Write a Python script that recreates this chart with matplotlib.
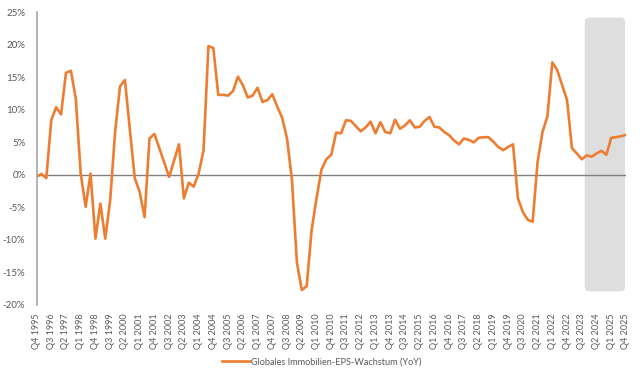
import numpy as np
import matplotlib
matplotlib.use("Agg")
import matplotlib.pyplot as plt
from matplotlib.patches import FancyBboxPatch

plt.rcParams['font.family'] = ['Lato', 'DejaVu Sans']

# Quarterly YoY EPS growth (%), Q4 1995 .. Q4 2025
eps_growth = [
    -0.3, 0.15, -0.5, 8.4, 10.4, 9.3, 15.7, 16.0, 11.7, 0.2,
    -4.9, 0.2, -9.8, -4.4, -9.8, -3.9, 6.6, 13.6, 14.6, 7.0,
    -0.5, -2.6, -6.5, 5.6, 6.3, 4.1, 1.9, -0.3, 2.2, 4.7,
    -3.6, -1.2, -1.8, 0.2, 3.8, 19.8, 19.5, 12.3, 12.3, 12.2,
    12.9, 15.1, 13.8, 11.9, 12.2, 13.4, 11.2, 11.5, 12.4, 10.5,
    8.8, 5.6, -0.8, -13.4, -17.7, -17.1, -8.5, -3.6, 0.8, 2.4,
    3.1, 6.5, 6.4, 8.4, 8.3, 7.5, 6.7, 7.3, 8.2, 6.4,
    8.1, 6.6, 6.4, 8.5, 7.1, 7.6, 8.4, 7.3, 7.4, 8.3,
    8.9, 7.4, 7.3, 6.6, 6.1, 5.3, 4.7, 5.6, 5.4, 5.0,
    5.7, 5.8, 5.8, 5.1, 4.3, 3.8, 4.3, 4.7, -3.6, -5.7,
    -6.9, -7.2, 2.0, 6.6, 9.0, 17.3, 16.1, 13.8, 11.5, 4.1,
    3.3, 2.4, 3.0, 2.8, 3.3, 3.7, 3.1, 5.7, 5.8, 5.95,
    6.15,
]

# every third quarter is labelled
tick_labels = [
    'Q4 1995', 'Q3 1996', 'Q2 1997', 'Q1 1998', 'Q4 1998', 'Q3 1999',
    'Q2 2000', 'Q1 2001', 'Q4 2001', 'Q3 2002', 'Q2 2003', 'Q1 2004',
    'Q4 2004', 'Q3 2005', 'Q2 2006', 'Q1 2007', 'Q4 2007', 'Q3 2008',
    'Q2 2009', 'Q1 2010', 'Q4 2010', 'Q3 2011', 'Q2 2012', 'Q1 2013',
    'Q4 2013', 'Q3 2014', 'Q2 2015', 'Q1 2016', 'Q4 2016', 'Q3 2017',
    'Q2 2018', 'Q1 2019', 'Q4 2019', 'Q3 2020', 'Q2 2021', 'Q1 2022',
    'Q4 2022', 'Q3 2023', 'Q2 2024', 'Q1 2025', 'Q4 2025',
]

# forecast region (shaded), in quarter index / percent
shade_start, shade_end = 111.6, 119.8
shade_low, shade_high = -17.9, 24.2

x = np.arange(len(eps_growth))
grey_txt = '#595959'

fig = plt.figure(figsize=(6.4, 3.77), dpi=100)
ax = fig.add_axes([36.5 / 640, 1 - 305 / 377, (626 - 36.5) / 640, (305 - 12.3) / 377])

box = FancyBboxPatch((shade_start, shade_low), shade_end - shade_start, shade_high - shade_low,
                     boxstyle='round,pad=0,rounding_size=0.9', mutation_aspect=0.755,
                     facecolor='#DEDEDE', edgecolor='none', zorder=0)
ax.add_patch(box)

ax.axhline(0, color='#808080', lw=1.0, zorder=1)
ax.plot(x, eps_growth, color='#ED7D31', lw=1.9, zorder=2,
        label='Globales Immobilien-EPS-Wachstum (YoY)')

ax.set_xlim(0, 120)
ax.set_ylim(-20, 25)
ax.set_yticks(np.arange(-20, 26, 5))
ax.set_yticklabels([f'{v}%' for v in range(-20, 26, 5)])
ax.set_xticks(x[::3])
ax.set_xticklabels(tick_labels, rotation=90)

for s in ['top', 'right', 'bottom']:
    ax.spines[s].set_visible(False)
ax.spines['left'].set_color('#A6A6A6')
ax.spines['left'].set_linewidth(1.2)

ax.tick_params(axis='y', length=0, pad=8, labelsize=7, labelcolor=grey_txt)
ax.tick_params(axis='x', length=0, pad=6, labelsize=6.5, labelcolor=grey_txt)

fig.legend(loc='center', bbox_to_anchor=(0.503, 1 - 362 / 377), frameon=False,
           fontsize=6.6, labelcolor=grey_txt, handlelength=3.0, handletextpad=0.2)

fig.savefig('out.png', dpi=100)
